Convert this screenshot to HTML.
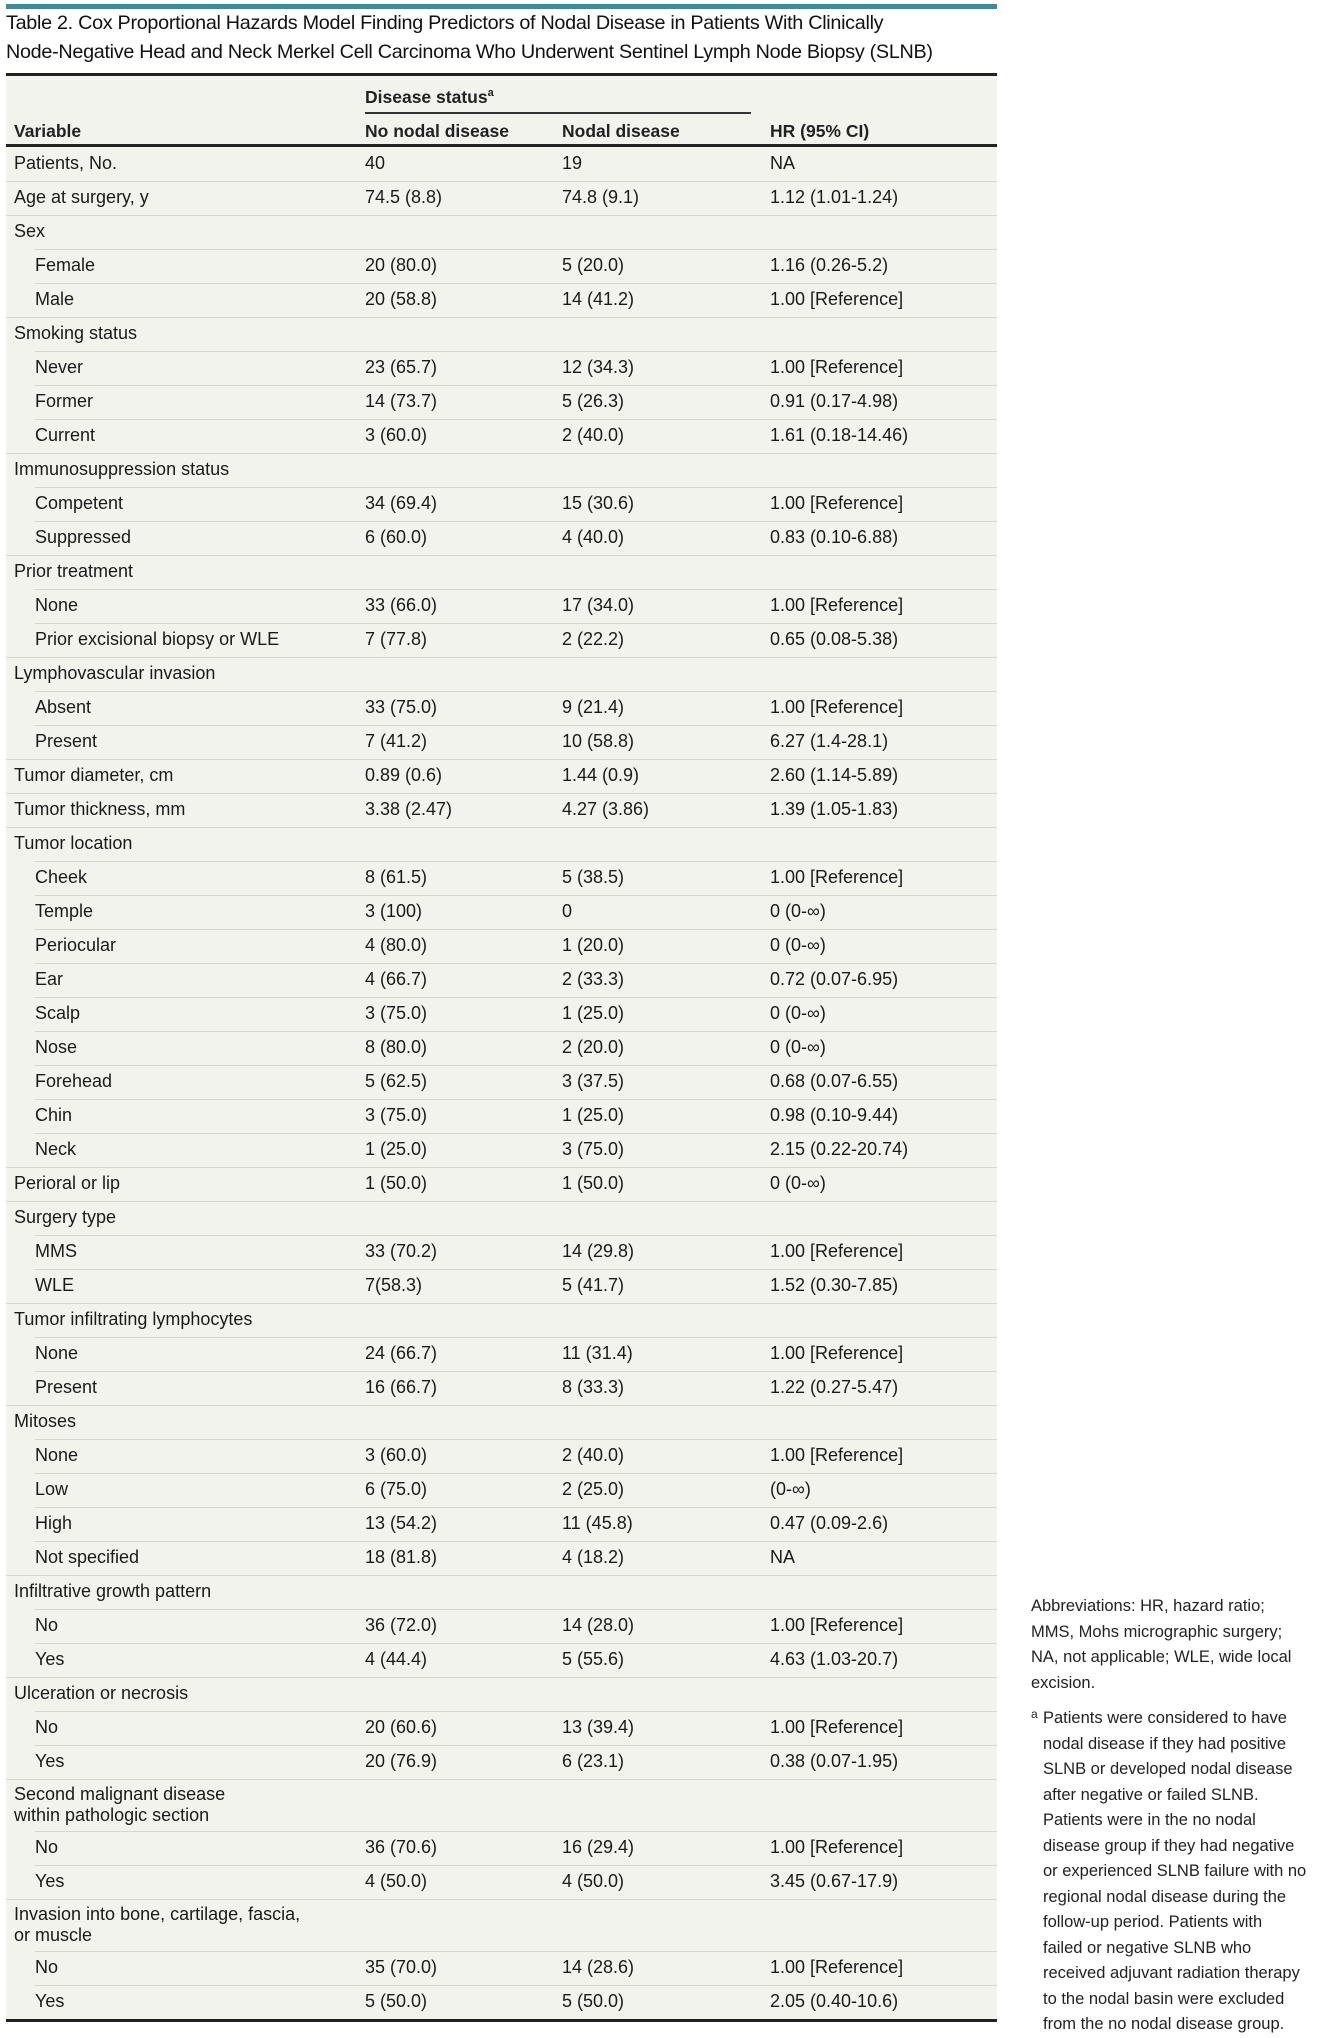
<!DOCTYPE html>
<html><head><meta charset="utf-8">
<style>
*{margin:0;padding:0;box-sizing:border-box}
body{width:1339px;height:2028px;background:#fff;position:relative;overflow:hidden;font-family:"Liberation Sans",sans-serif;color:#1a1a1a}
.bar{position:absolute;left:6px;top:4px;width:991px;height:5px;background:#3f8a9b}
.title{position:absolute;left:6px;top:9px;width:1000px;font-size:19.8px;line-height:29px;color:#111;letter-spacing:-0.3px}
.tbl{position:absolute;left:6px;top:73px;width:991px;background:#f3f3ee}
.top{height:3px;background:#222}
.hdr{position:relative;height:68px;font-size:17.5px;font-weight:bold;color:#222}
.hdr span{position:absolute}
.uline{position:absolute;left:359px;width:386px;top:36px;height:2px;background:#333}
.hbot{height:3px;background:#222}
.row{position:relative;height:34px;font-size:18px}
.row span{position:absolute;top:6px;white-space:nowrap}
.row.two{height:52px}
.row.two span.v{top:5px;line-height:21px;white-space:normal}
.row::before{content:"";position:absolute;left:0;right:0;top:0;height:1px;background:#d6d6cf}
.row.sub::before{left:29px}
.row.first::before{display:none}
.c0{left:8px}.sub .c0{left:29px}.c1{left:359px}.c2{left:556px}.c3{left:764px}
.bot{height:3px;background:#222}
.notes{position:absolute;left:1031px;width:308px;font-size:16.5px;line-height:25.5px;color:#222;white-space:nowrap}
sup{font-size:11px}
</style></head><body>
<div class="bar"></div>
<div class="title">Table 2. Cox Proportional Hazards Model Finding Predictors of Nodal Disease in Patients With Clinically<br>Node-Negative Head and Neck Merkel Cell Carcinoma Who Underwent Sentinel Lymph Node Biopsy (SLNB)</div>
<div class="tbl">
<div class="top"></div>
<div class="hdr">
<span style="left:359px;top:11px">Disease status<sup>a</sup></span>
<div class="uline"></div>
<span style="left:8px;top:45px">Variable</span>
<span style="left:359px;top:45px">No nodal disease</span>
<span style="left:556px;top:45px">Nodal disease</span>
<span style="left:764px;top:45px">HR (95% CI)</span>
</div>
<div class="hbot"></div>
<div class="row first"><span class="c0">Patients, No.</span><span class="c1">40</span><span class="c2">19</span><span class="c3">NA</span></div>
<div class="row"><span class="c0">Age at surgery, y</span><span class="c1">74.5 (8.8)</span><span class="c2">74.8 (9.1)</span><span class="c3">1.12 (1.01-1.24)</span></div>
<div class="row"><span class="c0">Sex</span></div>
<div class="row sub"><span class="c0">Female</span><span class="c1">20 (80.0)</span><span class="c2">5 (20.0)</span><span class="c3">1.16 (0.26-5.2)</span></div>
<div class="row sub"><span class="c0">Male</span><span class="c1">20 (58.8)</span><span class="c2">14 (41.2)</span><span class="c3">1.00 [Reference]</span></div>
<div class="row"><span class="c0">Smoking status</span></div>
<div class="row sub"><span class="c0">Never</span><span class="c1">23 (65.7)</span><span class="c2">12 (34.3)</span><span class="c3">1.00 [Reference]</span></div>
<div class="row sub"><span class="c0">Former</span><span class="c1">14 (73.7)</span><span class="c2">5 (26.3)</span><span class="c3">0.91 (0.17-4.98)</span></div>
<div class="row sub"><span class="c0">Current</span><span class="c1">3 (60.0)</span><span class="c2">2 (40.0)</span><span class="c3">1.61 (0.18-14.46)</span></div>
<div class="row"><span class="c0">Immunosuppression status</span></div>
<div class="row sub"><span class="c0">Competent</span><span class="c1">34 (69.4)</span><span class="c2">15 (30.6)</span><span class="c3">1.00 [Reference]</span></div>
<div class="row sub"><span class="c0">Suppressed</span><span class="c1">6 (60.0)</span><span class="c2">4 (40.0)</span><span class="c3">0.83 (0.10-6.88)</span></div>
<div class="row"><span class="c0">Prior treatment</span></div>
<div class="row sub"><span class="c0">None</span><span class="c1">33 (66.0)</span><span class="c2">17 (34.0)</span><span class="c3">1.00 [Reference]</span></div>
<div class="row sub"><span class="c0">Prior excisional biopsy or WLE</span><span class="c1">7 (77.8)</span><span class="c2">2 (22.2)</span><span class="c3">0.65 (0.08-5.38)</span></div>
<div class="row"><span class="c0">Lymphovascular invasion</span></div>
<div class="row sub"><span class="c0">Absent</span><span class="c1">33 (75.0)</span><span class="c2">9 (21.4)</span><span class="c3">1.00 [Reference]</span></div>
<div class="row sub"><span class="c0">Present</span><span class="c1">7 (41.2)</span><span class="c2">10 (58.8)</span><span class="c3">6.27 (1.4-28.1)</span></div>
<div class="row"><span class="c0">Tumor diameter, cm</span><span class="c1">0.89 (0.6)</span><span class="c2">1.44 (0.9)</span><span class="c3">2.60 (1.14-5.89)</span></div>
<div class="row"><span class="c0">Tumor thickness, mm</span><span class="c1">3.38 (2.47)</span><span class="c2">4.27 (3.86)</span><span class="c3">1.39 (1.05-1.83)</span></div>
<div class="row"><span class="c0">Tumor location</span></div>
<div class="row sub"><span class="c0">Cheek</span><span class="c1">8 (61.5)</span><span class="c2">5 (38.5)</span><span class="c3">1.00 [Reference]</span></div>
<div class="row sub"><span class="c0">Temple</span><span class="c1">3 (100)</span><span class="c2">0</span><span class="c3">0 (0-∞)</span></div>
<div class="row sub"><span class="c0">Periocular</span><span class="c1">4 (80.0)</span><span class="c2">1 (20.0)</span><span class="c3">0 (0-∞)</span></div>
<div class="row sub"><span class="c0">Ear</span><span class="c1">4 (66.7)</span><span class="c2">2 (33.3)</span><span class="c3">0.72 (0.07-6.95)</span></div>
<div class="row sub"><span class="c0">Scalp</span><span class="c1">3 (75.0)</span><span class="c2">1 (25.0)</span><span class="c3">0 (0-∞)</span></div>
<div class="row sub"><span class="c0">Nose</span><span class="c1">8 (80.0)</span><span class="c2">2 (20.0)</span><span class="c3">0 (0-∞)</span></div>
<div class="row sub"><span class="c0">Forehead</span><span class="c1">5 (62.5)</span><span class="c2">3 (37.5)</span><span class="c3">0.68 (0.07-6.55)</span></div>
<div class="row sub"><span class="c0">Chin</span><span class="c1">3 (75.0)</span><span class="c2">1 (25.0)</span><span class="c3">0.98 (0.10-9.44)</span></div>
<div class="row sub"><span class="c0">Neck</span><span class="c1">1 (25.0)</span><span class="c2">3 (75.0)</span><span class="c3">2.15 (0.22-20.74)</span></div>
<div class="row"><span class="c0">Perioral or lip</span><span class="c1">1 (50.0)</span><span class="c2">1 (50.0)</span><span class="c3">0 (0-∞)</span></div>
<div class="row"><span class="c0">Surgery type</span></div>
<div class="row sub"><span class="c0">MMS</span><span class="c1">33 (70.2)</span><span class="c2">14 (29.8)</span><span class="c3">1.00 [Reference]</span></div>
<div class="row sub"><span class="c0">WLE</span><span class="c1">7(58.3)</span><span class="c2">5 (41.7)</span><span class="c3">1.52 (0.30-7.85)</span></div>
<div class="row"><span class="c0">Tumor infiltrating lymphocytes</span></div>
<div class="row sub"><span class="c0">None</span><span class="c1">24 (66.7)</span><span class="c2">11 (31.4)</span><span class="c3">1.00 [Reference]</span></div>
<div class="row sub"><span class="c0">Present</span><span class="c1">16 (66.7)</span><span class="c2">8 (33.3)</span><span class="c3">1.22 (0.27-5.47)</span></div>
<div class="row"><span class="c0">Mitoses</span></div>
<div class="row sub"><span class="c0">None</span><span class="c1">3 (60.0)</span><span class="c2">2 (40.0)</span><span class="c3">1.00 [Reference]</span></div>
<div class="row sub"><span class="c0">Low</span><span class="c1">6 (75.0)</span><span class="c2">2 (25.0)</span><span class="c3">(0-∞)</span></div>
<div class="row sub"><span class="c0">High</span><span class="c1">13 (54.2)</span><span class="c2">11 (45.8)</span><span class="c3">0.47 (0.09-2.6)</span></div>
<div class="row sub"><span class="c0">Not specified</span><span class="c1">18 (81.8)</span><span class="c2">4 (18.2)</span><span class="c3">NA</span></div>
<div class="row"><span class="c0">Infiltrative growth pattern</span></div>
<div class="row sub"><span class="c0">No</span><span class="c1">36 (72.0)</span><span class="c2">14 (28.0)</span><span class="c3">1.00 [Reference]</span></div>
<div class="row sub"><span class="c0">Yes</span><span class="c1">4 (44.4)</span><span class="c2">5 (55.6)</span><span class="c3">4.63 (1.03-20.7)</span></div>
<div class="row"><span class="c0">Ulceration or necrosis</span></div>
<div class="row sub"><span class="c0">No</span><span class="c1">20 (60.6)</span><span class="c2">13 (39.4)</span><span class="c3">1.00 [Reference]</span></div>
<div class="row sub"><span class="c0">Yes</span><span class="c1">20 (76.9)</span><span class="c2">6 (23.1)</span><span class="c3">0.38 (0.07-1.95)</span></div>
<div class="row two"><span class="c0 v">Second malignant disease<br>within pathologic section</span></div>
<div class="row sub"><span class="c0">No</span><span class="c1">36 (70.6)</span><span class="c2">16 (29.4)</span><span class="c3">1.00 [Reference]</span></div>
<div class="row sub"><span class="c0">Yes</span><span class="c1">4 (50.0)</span><span class="c2">4 (50.0)</span><span class="c3">3.45 (0.67-17.9)</span></div>
<div class="row two"><span class="c0 v">Invasion into bone, cartilage, fascia,<br>or muscle</span></div>
<div class="row sub"><span class="c0">No</span><span class="c1">35 (70.0)</span><span class="c2">14 (28.6)</span><span class="c3">1.00 [Reference]</span></div>
<div class="row sub"><span class="c0">Yes</span><span class="c1">5 (50.0)</span><span class="c2">5 (50.0)</span><span class="c3">2.05 (0.40-10.6)</span></div>
<div class="bot"></div>
</div>
<div class="notes" style="top:1594px">Abbreviations: HR, hazard ratio;<br>MMS, Mohs micrographic surgery;<br>NA, not applicable; WLE, wide local<br>excision.</div>
<div class="notes" style="top:1706px"><span style="position:absolute;left:0;top:-4px;font-size:12px">a</span><div style="padding-left:12px">Patients were considered to have<br>nodal disease if they had positive<br>SLNB or developed nodal disease<br>after negative or failed SLNB.<br>Patients were in the no nodal<br>disease group if they had negative<br>or experienced SLNB failure with no<br>regional nodal disease during the<br>follow-up period. Patients with<br>failed or negative SLNB who<br>received adjuvant radiation therapy<br>to the nodal basin were excluded<br>from the no nodal disease group.</div></div>
</body></html>
